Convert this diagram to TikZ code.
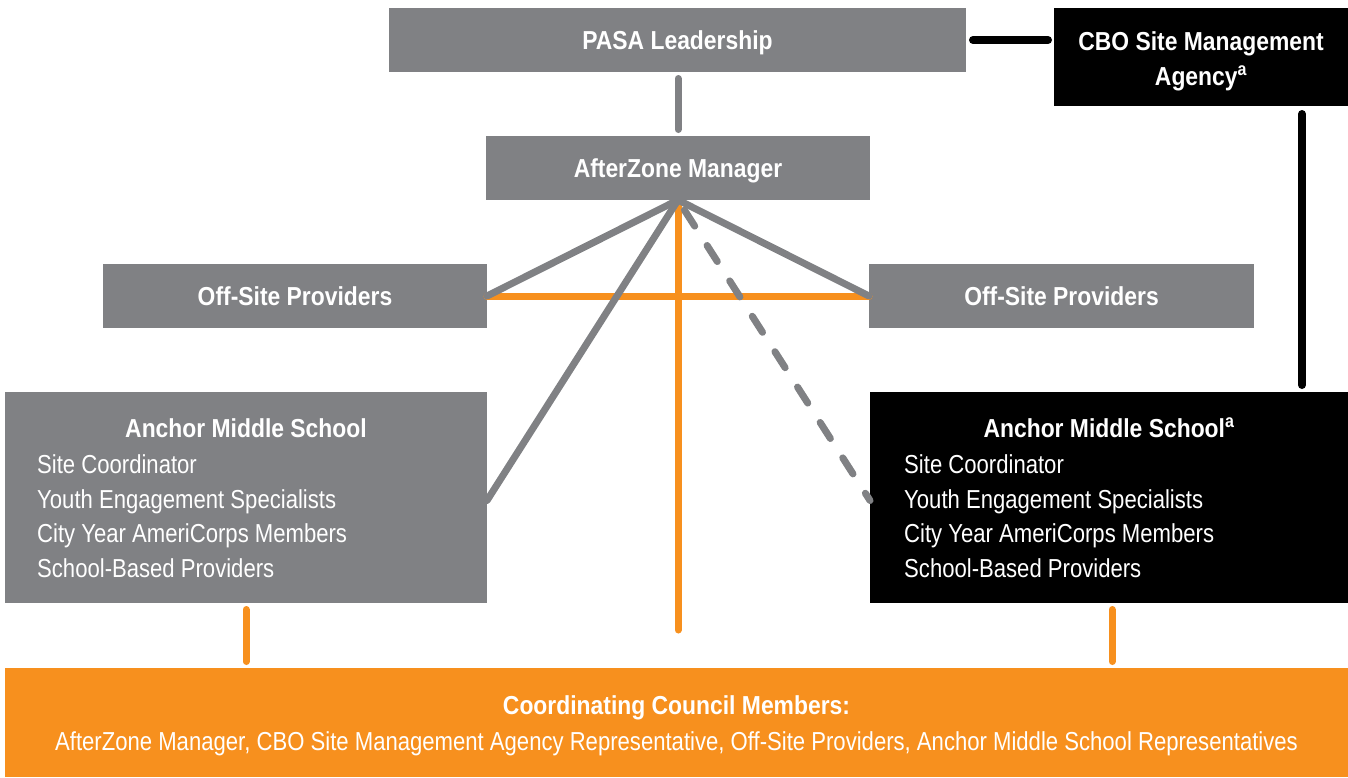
\documentclass[tikz,border=0pt]{standalone}
\usepackage{fontspec}
\setmainfont{Liberation Sans}[FakeStretch=0.85]
\newfontfamily\bdf{Liberation Sans}[FakeStretch=0.88]
\definecolor{pgray}{RGB}{128,129,132}
\definecolor{porange}{RGB}{247,144,30}
\tikzset{
  boxg/.style={rectangle, fill=pgray, draw=none, inner sep=0pt, outer sep=0pt},
  boxk/.style={rectangle, fill=black, draw=none, inner sep=0pt, outer sep=0pt},
  boxo/.style={rectangle, fill=porange, draw=none, inner sep=0pt, outer sep=0pt},
  hd/.style={text=white, inner sep=0pt, anchor=base, font=\bdf\bfseries\fontsize{26}{30}\selectfont},
  tx/.style={text=white, inner sep=0pt, anchor=base west, font=\fontsize{26}{30}\selectfont},
  txc/.style={text=white, inner sep=0pt, anchor=base, font=\fontsize{26}{30}\selectfont},
  lng/.style={draw=pgray, line width=7pt, line cap=round},
  lno/.style={draw=porange, line width=7pt, line cap=round},
  lnk/.style={draw=black, line width=8pt, line cap=round},
}
\begin{document}
\begin{tikzpicture}[x=1pt,y=-1pt]
\useasboundingbox (0,0) rectangle (1348,777);
% boxes
\node[boxg, minimum width=577, minimum height=64] (pasa) at (677.5,40) {};
\node[boxk, minimum width=294, minimum height=98] (cbo) at (1201,57) {};
\node[boxg, minimum width=384, minimum height=64] (az) at (678,168) {};
\node[boxg, minimum width=384, minimum height=64] (loff) at (295,296) {};
\node[boxg, minimum width=385, minimum height=64] (roff) at (1061.5,296) {};
\node[boxg, minimum width=482, minimum height=211] (lanch) at (246,497.5) {};
\node[boxk, minimum width=478, minimum height=211] (ranch) at (1109,497.5) {};
\node[boxo, minimum width=1343, minimum height=109] (council) at (676.5,722.5) {};
% texts
\node[hd] (pasa-t) at (677.5,49.5) {PASA Leadership};
\node[hd] (cbo-t1) at (1201,50) {CBO Site Management};
\node[hd] (cbo-t2) at (1201,85) {Agency\textsuperscript{a}};
\node[hd] (az-t) at (678,177.5) {AfterZone Manager};
\node[hd] (loff-t) at (295,305.5) {Off-Site Providers};
\node[hd] (roff-t) at (1061.5,305.5) {Off-Site Providers};
\node[hd] (lanch-t) at (246,437) {Anchor Middle School};
\node[tx] (lanch-1) at (37,473) {Site Coordinator};
\node[tx] (lanch-2) at (37,508) {Youth Engagement Specialists};
\node[tx] (lanch-3) at (37,542.5) {City Year AmeriCorps Members};
\node[tx] (lanch-4) at (37,577) {School-Based Providers};
\node[hd] (ranch-t) at (1109,437) {Anchor Middle School\textsuperscript{a}};
\node[tx] (ranch-1) at (904,473) {Site Coordinator};
\node[tx] (ranch-2) at (904,508) {Youth Engagement Specialists};
\node[tx] (ranch-3) at (904,542.5) {City Year AmeriCorps Members};
\node[tx] (ranch-4) at (904,577) {School-Based Providers};
\node[hd] (council-t) at (676.5,714) {Coordinating Council Members:};
\node[txc] (council-b) at (676.5,750) {AfterZone Manager, CBO Site Management Agency Representative, Off-Site Providers, Anchor Middle School Representatives};
% helper coordinates
\coordinate (k) at (1302,0);
\coordinate (ov) at (678,630);
% orange connectors
\draw[lno] (loff.east) -- (roff.west);
\draw[lno, shorten <=3pt] (az.south) -- (ov);
\draw[lno, shorten <=6.5pt, shorten >=6.5pt] (lanch.south) -- (lanch.south |- council.north);
\draw[lno, shorten <=6.5pt, shorten >=6.5pt] (ranch.south -| 1112,0) -- (council.north -| 1112,0);
% gray connectors
\draw[lng, shorten <=6.5pt, shorten >=6.5pt] (pasa.south -| az.south) -- (az.north);
\draw[lng] (az.south) -- (loff.east);
\draw[lng] (az.south) -- (roff.west);
\draw[lng] (az.south) -- ([yshift=-3pt]lanch.east);
\draw[lng, dash pattern=on 19pt off 23pt, dash phase=-12pt] (az.south) -- ([yshift=-3pt]ranch.west);
% black connectors
\draw[lnk, shorten <=7pt, shorten >=6pt] (pasa.east) -- (pasa.east -| cbo.west);
\draw[lnk, shorten <=8pt, shorten >=7pt] (cbo.south -| k) -- (ranch.north -| k);
\end{tikzpicture}
\end{document}
